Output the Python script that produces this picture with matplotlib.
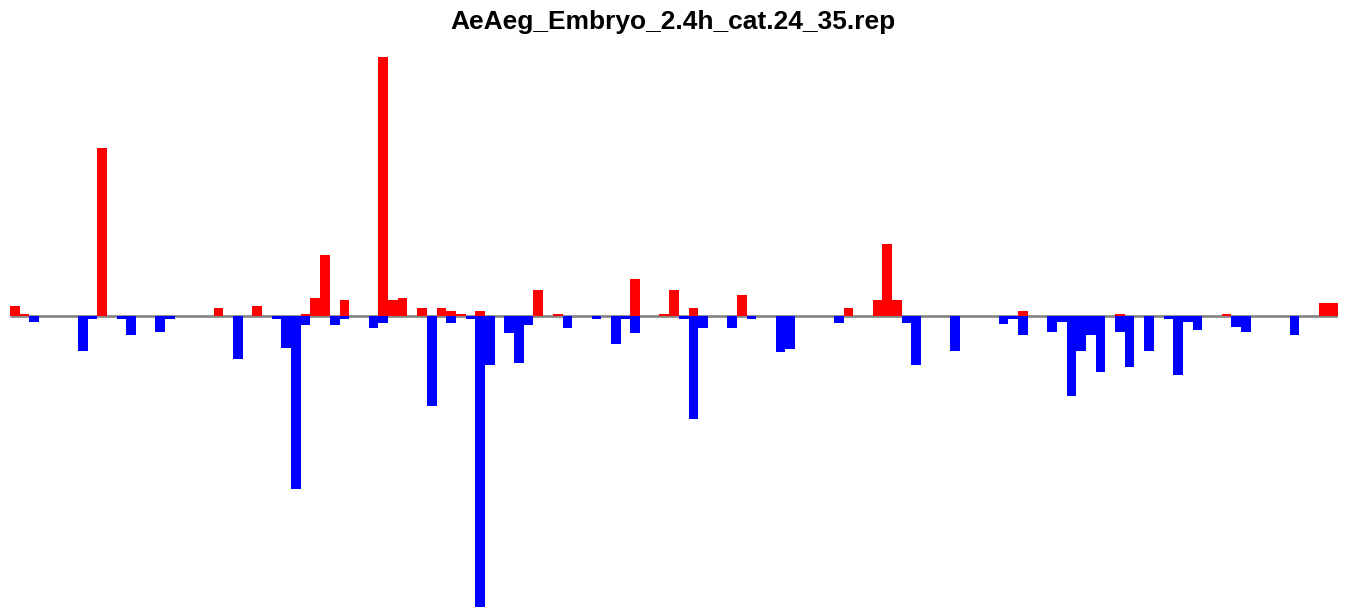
import matplotlib
matplotlib.use("Agg")
import matplotlib.pyplot as plt
import numpy as np

title = "AeAeg_Embryo_2.4h_cat.24_35.rep"
n_bins = 137

# positive (red) and negative (blue) bin values, keyed by bin index
red_bins = [0, 1, 9, 21, 25, 30, 31, 32, 34, 38, 39, 40, 42, 44, 45, 46, 48,
            54, 56, 64, 67, 68, 70, 75, 86, 89, 90, 91, 104, 114, 125, 135, 136]
red_vals = [10, 2, 168, 8, 10, 2, 18, 61, 16, 259, 16, 18, 8, 8, 5, 2, 5,
            26, 2, 37, 2, 26, 8, 21, 8, 16, 72, 16, 5, 2, 2, 13, 13]

blue_bins = [2, 7, 8, 11, 12, 15, 16, 23, 27, 28, 29, 30, 33, 34, 37, 38, 43,
             45, 47, 48, 49, 51, 52, 53, 57, 60, 62, 63, 64, 69, 70, 71, 74,
             76, 79, 80, 85, 92, 93, 97, 102, 103, 104, 107, 108, 109, 110,
             111, 112, 114, 115, 117, 119, 120, 121, 122, 126, 127, 132]
blue_vals = [-6, -35, -3, -3, -19, -16, -3, -43, -3, -32, -173, -9, -9, -3,
             -12, -7, -90, -7, -3, -290, -49, -17, -47, -9, -12, -3, -28, -3,
             -17, -3, -103, -12, -12, -3, -36, -33, -7, -7, -49, -35, -8, -3,
             -19, -16, -6, -80, -35, -19, -56, -16, -51, -35, -3, -59, -6,
             -14, -11, -16, -19]

red = np.zeros(n_bins)
red[red_bins] = red_vals
blue = np.zeros(n_bins)
blue[blue_bins] = blue_vals
x = np.arange(n_bins)

W, H = 1347, 607
fig = plt.figure(figsize=(W / 100, H / 100), dpi=100)
ax = fig.add_axes([10 / W, 0.5 / H, 1328 / W, 550 / H])

ax.plot([0, n_bins], [0, 0], color="#888888", lw=2, zorder=1, solid_capstyle="butt")
ax.bar(x, red, width=1.0, align="edge", color="#ff0000", linewidth=0, zorder=2)
ax.bar(x, blue, width=1.0, align="edge", color="#0000ff", linewidth=0, zorder=2)

ax.set_xlim(0, n_bins)
ax.set_ylim(min(blue_vals), max(red_vals))
ax.axis("off")

fig.text(673 / W, 1 - 22 / H, title, ha="center", va="center",
         fontsize=19, fontweight="bold", family="Liberation Sans")

fig.savefig("out.png", dpi=100)
